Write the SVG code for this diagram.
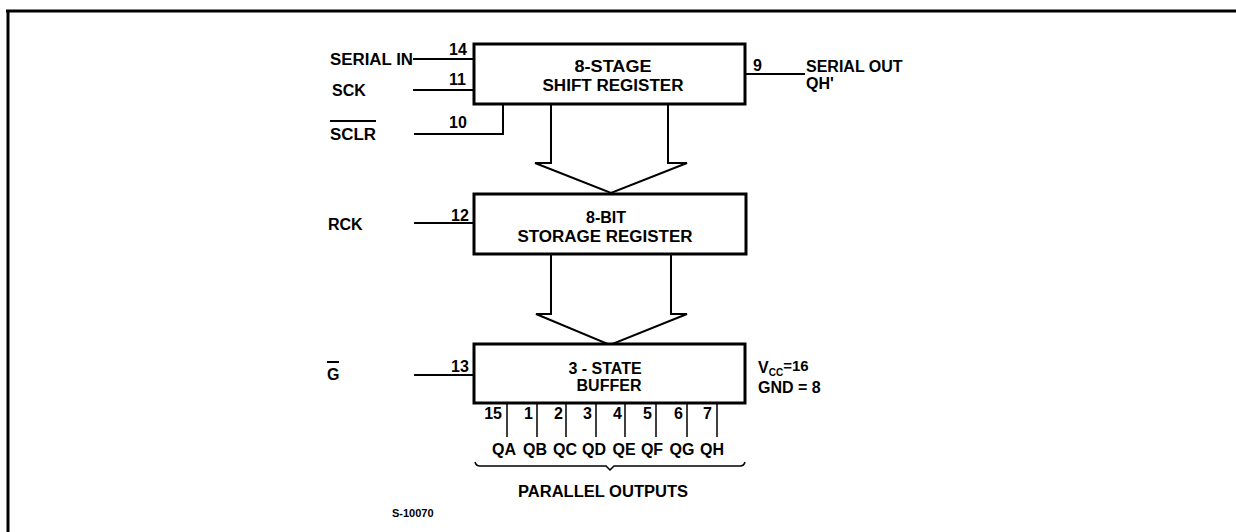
<svg xmlns="http://www.w3.org/2000/svg" width="1236" height="532" viewBox="0 0 1236 532">
<style>
text{font-family:"Liberation Sans",Arial,sans-serif;font-weight:bold;font-size:16px;fill:#000}
.c{text-anchor:middle}
.r{text-anchor:end}
.box{fill:#fff;stroke:#000;stroke-width:3}
.w{fill:none;stroke:#000;stroke-width:2}
.p{fill:none;stroke:#000;stroke-width:1.5}
.sm{font-size:11px}
.pin{font-size:16px}
</style>
<rect width="1236" height="532" fill="#fff"/>
<g id="frame"><path d="M6 11H1236M8 10V532" fill="none" stroke="#000" stroke-width="3"/></g>
<g id="connectors">
<path class="w" d="M413 59H474M413 90H474M414 134H503V104M414 223H474M414 375H474M745 74H805"/>
<path class="w" d="M551 105V163H535L611 193L687 163H668V105"/>
<path class="w" d="M551 255V314H536L610 345L687 314H671V255"/>
<path class="p" d="M507 403V437M537 403V437M566 403V437M596 403V437M625 403V437M656 403V437M687 403V437M717 403V437"/>
<path class="p" d="M475 462Q476 466 480 466H606L610 470L614 466H740Q744 466 745 462"/>
</g>
<g id="shift-register">
<rect class="box" x="474" y="44" width="271" height="60"/>
<text class="c" x="613" y="72" textLength="77" lengthAdjust="spacingAndGlyphs">8-STAGE</text>
<text class="c" x="613" y="91" textLength="141" lengthAdjust="spacingAndGlyphs">SHIFT REGISTER</text>
</g>
<g id="storage-register">
<rect class="box" x="474" y="194" width="272" height="60"/>
<text class="c" x="606" y="223">8-BIT</text>
<text class="c" x="605" y="242" textLength="175" lengthAdjust="spacingAndGlyphs">STORAGE REGISTER</text>
</g>
<g id="buffer">
<rect class="box" x="474" y="344" width="271" height="59"/>
<text class="c" x="605" y="374">3 - STATE</text>
<text class="c" x="609" y="391">BUFFER</text>
</g>
<g id="inputs">
<text x="330" y="65" textLength="83" lengthAdjust="spacingAndGlyphs">SERIAL IN</text>
<text x="449" y="55">14</text>
<text x="332" y="96">SCK</text>
<text x="449" y="85">11</text>
<text x="330" y="140" textLength="46" lengthAdjust="spacingAndGlyphs">SCLR</text>
<path d="M330 121H376" stroke="#000" stroke-width="2"/>
<text x="449" y="128">10</text>
<text x="328" y="230">RCK</text>
<text x="451" y="221">12</text>
<text x="327" y="380">G</text>
<path d="M327 362H339" stroke="#000" stroke-width="2"/>
<text x="451" y="372">13</text>
</g>
<g id="serial-out">
<text x="753" y="71">9</text>
<text x="806" y="72">SERIAL OUT</text>
<text x="806" y="89">QH'</text>
</g>
<g id="power">
<text x="758" y="373">V<tspan font-size="10" dy="3">CC</tspan><tspan font-size="15" dy="-5">=16</tspan></text>
<text x="758" y="393" font-size="15">GND = 8</text>
</g>
<g id="outputs">
<text class="r pin" x="502" y="419">15</text>
<text class="r pin" x="533" y="419">1</text>
<text class="r pin" x="563" y="419">2</text>
<text class="r pin" x="592" y="419">3</text>
<text class="r pin" x="622" y="419">4</text>
<text class="r pin" x="652" y="419">5</text>
<text class="r pin" x="683" y="419">6</text>
<text class="r pin" x="712" y="419">7</text>
<text class="c pin" x="504" y="455">QA</text>
<text class="c pin" x="535" y="455">QB</text>
<text class="c pin" x="565" y="455">QC</text>
<text class="c pin" x="594" y="455">QD</text>
<text class="c pin" x="624" y="455">QE</text>
<text class="c pin" x="652" y="455">QF</text>
<text class="c pin" x="682" y="455">QG</text>
<text class="c pin" x="712" y="455">QH</text>
<text class="c" x="603" y="497" textLength="170" lengthAdjust="spacingAndGlyphs">PARALLEL OUTPUTS</text>
</g>
<text class="sm" x="392" y="517">S-10070</text>
</svg>
